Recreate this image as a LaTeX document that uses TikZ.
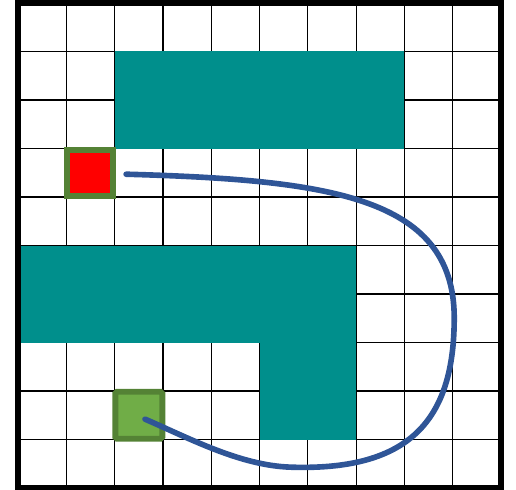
\documentclass[tikz,border=0pt]{standalone}
\usepackage{xcolor}
\usepackage{tikz}
\usetikzlibrary{calc, positioning}

\definecolor{wallteal}{RGB}{0,143,140}
\definecolor{pathblue}{RGB}{47,85,151}
\definecolor{goalgreen}{RGB}{112,173,71}
\definecolor{edgegreen}{RGB}{84,130,53}

\begin{document}
\begin{tikzpicture}[
    x=0.966cm, y=0.97cm,
    gridline/.style={line width=0.7pt, black},
    frame/.style={line width=3.4pt, black},
    wall/.style={fill=wallteal},
    startbox/.style={rectangle, draw=edgegreen, line width=3.4pt, fill=red, minimum size=0.92cm, inner sep=0pt},
    goalbox/.style={rectangle, draw=edgegreen, line width=3.4pt, fill=goalgreen, rounded corners=1pt, minimum size=0.94cm, inner sep=0pt},
    route/.style={line width=3.2pt, pathblue, line cap=round}
]
\useasboundingbox (-0.373,-0.041) rectangle (10.31,10.062);

% Grid
\foreach \i in {1,...,9} {
    \draw[gridline] (\i,0) -- (\i,10);
    \draw[gridline] (0,\i) -- (10,\i);
}

% Obstacles
\fill[wall] (2,7) rectangle (8,9);
\fill[wall] (0,3) rectangle (7,5);
\fill[wall] (5,1) rectangle (7,3);

% Outer frame
\draw[frame] (0,0) rectangle (10,10);

% Start and goal
\node[startbox] (start) at (1.5,6.5) {};
\node[goalbox] (goal) at (2.5,1.5) {};

% Route
\coordinate (routestart) at ($(start.east)+(0.2,-0.03)$);
\coordinate (routeend) at ($(goal.center)+(0.13,-0.08)$);
\draw[route] (routestart) .. controls (6.5,6.35) and (9.1,6.0) .. (9.03,3.40)
    .. controls (9.0,1.3) and (8.0,0.35) .. (5.63,0.43)
    .. controls (4.6,0.47) and (3.6,1.0) .. (routeend);

\end{tikzpicture}
\end{document}
